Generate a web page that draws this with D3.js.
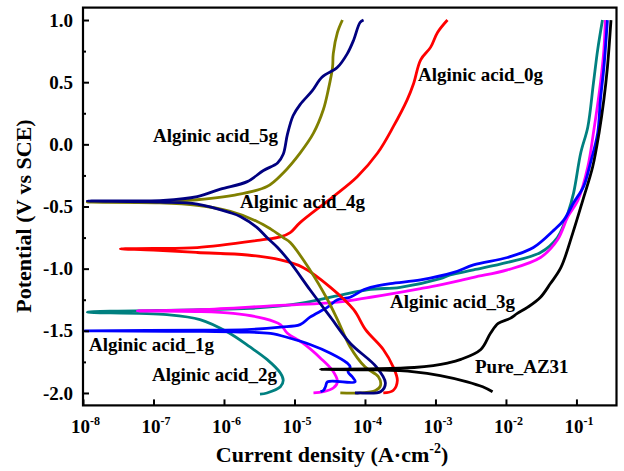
<!DOCTYPE html>
<html>
<head>
<meta charset="utf-8">
<script src="https://cdn.jsdelivr.net/npm/d3@7"></script>
<style>
  body { margin: 0; background: #fff; }
  svg text { font-family: "Liberation Serif", "Times New Roman", serif; font-weight: bold; fill: #000; }
  .tick-label { font-size: 19px; }
  .axis-title { font-size: 22px; }
  .curve-label { font-size: 19px; }
</style>
</head>
<body>
<svg id="chart" width="624" height="471"></svg>
<script>
// ── data: [current density (A/cm2), potential (V vs SCE)] ─────────
const pureAZ31 = [
  [6.46e-3,-1.99],[4.68e-3,-1.95],[2.82e-3,-1.91],[1.17e-3,-1.86],[5.0e-4,-1.83],[1.58e-4,-1.815],
  [2.34e-5,-1.81],[1.58e-4,-1.805],[5.0e-4,-1.795],[9.3e-4,-1.78],[1.48e-3,-1.76],[2.29e-3,-1.73],
  [4.4e-3,-1.65],[6.03e-3,-1.52],[7.76e-3,-1.44],[1.15e-2,-1.40],[1.45e-2,-1.36],[2.04e-2,-1.31],
  [3.09e-2,-1.23],[4.27e-2,-1.12],[6.03e-2,-0.99],[8.91e-2,-0.71],[0.123,-0.45],[0.170,-0.18],
  [0.209,0.09],[0.245,0.36],[0.275,0.62],[0.309,1.0]
];
const acid0g = [
  [1.82e-4,-2.0],[2.51e-4,-1.98],[2.88e-4,-1.90],[2.51e-4,-1.79],[1.82e-4,-1.65],[1.02e-4,-1.49],
  [6.92e-5,-1.33],[3.24e-5,-1.15],[1.32e-5,-0.99],[6.31e-6,-0.93],[2.14e-6,-0.89],[4.17e-7,-0.87],
  [1e-7,-0.85],[3.39e-8,-0.84],[1e-7,-0.837],[4.17e-7,-0.83],[3.24e-6,-0.77],[6.31e-6,-0.745],
  [8.7e-6,-0.71],[1.2e-5,-0.63],[3.55e-5,-0.42],[7.76e-5,-0.26],[1.51e-4,-0.07],[2.51e-4,0.14],
  [3.98e-4,0.36],[4.9e-4,0.49],[6.17e-4,0.68],[8.51e-4,0.78],[1.07e-3,0.90],[1.48e-3,1.0]
];
const acid1g = [
  [2.34e-5,-1.99],[2.57e-5,-1.98],[2.75e-5,-1.95],[2.95e-5,-1.91],[7.24e-5,-1.91],[6.6e-5,-1.87],
  [5.75e-5,-1.83],[6.17e-5,-1.79],[5.62e-5,-1.76],[3.24e-5,-1.68],[1.66e-5,-1.61],[8.71e-6,-1.56],
  [4.57e-6,-1.52],[1.7e-6,-1.51],[4.57e-7,-1.505],[1.07e-8,-1.50],[4.57e-7,-1.495],[2.14e-6,-1.49],
  [6.31e-6,-1.47],[1.2e-5,-1.45],[1.66e-5,-1.39],[2.95e-5,-1.31],[4.07e-5,-1.25],[6.17e-5,-1.23],
  [9.55e-5,-1.17],[1.2e-4,-1.15],[2.29e-4,-1.12],[6.17e-4,-1.09],[1.82e-3,-1.03],[3.47e-3,-0.97],
  [1.05e-2,-0.91],[2.45e-2,-0.83],[4.79e-2,-0.69],[6.61e-2,-0.61],[9.12e-2,-0.47],[0.126,-0.34],
  [0.158,-0.15],[0.2,0.09],[0.219,0.36],[0.245,0.62],[0.275,1.0]
];
const acid2g = [
  [3.24e-6,-2.01],[4.07e-6,-2.0],[6.31e-6,-1.95],[6.92e-6,-1.90],[6.31e-6,-1.84],[4.07e-6,-1.73],
  [2.34e-6,-1.63],[1.12e-6,-1.51],[4.57e-7,-1.41],[1.55e-7,-1.37],[1.15e-8,-1.35],[4.57e-7,-1.33],
  [2.34e-6,-1.32],[1.2e-5,-1.28],[1.07e-4,-1.17],[3.16e-4,-1.15],[1.17e-3,-1.08],[1.62e-3,-1.05],
  [3.47e-3,-1.01],[1.05e-2,-0.95],[3.09e-2,-0.87],[5.37e-2,-0.75],[7.59e-2,-0.55],[9.12e-2,-0.39],
  [0.115,-0.07],[0.145,0.14],[0.174,0.49],[0.2,0.76],[0.234,1.0]
];
const acid3g = [
  [1.86e-5,-2.0],[2.57e-5,-1.99],[3.55e-5,-1.96],[4.07e-5,-1.91],[3.47e-5,-1.82],[2.34e-5,-1.72],
  [1.32e-5,-1.60],[7.94e-6,-1.52],[6.31e-6,-1.45],[3.63e-6,-1.40],[1.35e-6,-1.36],[4.0e-7,-1.345],
  [5.89e-8,-1.34],[4.57e-7,-1.33],[4.57e-6,-1.30],[4.07e-5,-1.27],[1.2e-4,-1.23],[6.17e-4,-1.16],
  [1.17e-3,-1.13],[3.47e-3,-1.07],[1.05e-2,-1.01],[3.09e-2,-0.91],[5.37e-2,-0.77],[7.59e-2,-0.58],
  [0.105,-0.45],[0.145,-0.18],[0.174,0.09],[0.219,0.49],[0.245,0.76],[0.257,1.0]
];
const acid4g = [
  [4.47e-5,-2.0],[8.5e-5,-2.0],[1.41e-4,-1.98],[1.66e-4,-1.94],[1.55e-4,-1.87],[1.0e-4,-1.79],
  [6.17e-5,-1.63],[4.07e-5,-1.41],[2.95e-5,-1.25],[1.66e-5,-1.01],[8.71e-6,-0.79],[6.92e-6,-0.75],
  [4.57e-6,-0.68],[2.95e-6,-0.62],[1.23e-6,-0.54],[4.17e-7,-0.49],[1.2e-7,-0.47],[1.15e-8,-0.465],
  [1.2e-7,-0.46],[2.4e-7,-0.455],[1.35e-6,-0.41],[4.07e-6,-0.34],[6.92e-6,-0.23],[1.2e-5,-0.07],
  [1.86e-5,0.09],[2.57e-5,0.28],[3.02e-5,0.44],[3.47e-5,0.62],[3.55e-5,0.73],[4.07e-5,0.90],[4.79e-5,1.0]
];
const acid5g = [
  [7.2e-5,-2.0],[8.5e-5,-2.0],[1.66e-4,-1.99],[1.95e-4,-1.92],[1.45e-4,-1.79],[6.17e-5,-1.60],
  [3.24e-5,-1.39],[1.66e-5,-1.17],[8.71e-6,-0.95],[5.75e-6,-0.83],[4.07e-6,-0.75],[2.95e-6,-0.67],
  [1.7e-6,-0.58],[1.23e-6,-0.55],[4.17e-7,-0.48],[1.26e-7,-0.465],[1.15e-8,-0.456],[1.38e-7,-0.45],
  [4.17e-7,-0.42],[8.91e-7,-0.36],[2.14e-6,-0.30],[3.63e-6,-0.21],[5.75e-6,-0.15],[6.92e-6,-0.08],
  [7.94e-6,0.08],[9.55e-6,0.23],[1.2e-5,0.32],[1.78e-5,0.43],[2.45e-5,0.54],[4.07e-5,0.62],
  [5.62e-5,0.73],[6.92e-5,0.84],[8.51e-5,0.98],[9.55e-5,1.0]
];

const seriesNames  = ['Alginic acid_2g', 'Alginic acid_3g', 'Alginic acid_1g', 'Alginic acid_0g', 'Alginic acid_4g', 'Alginic acid_5g', 'Pure_AZ31'];
const seriesData   = [acid2g, acid3g, acid1g, acid0g, acid4g, acid5g, pureAZ31];
const seriesColors = ['#008080', '#ff00ff', '#0000ff', '#ff0000', '#808000', '#000080', '#000000'];

const xTicks = [1e-8, 1e-7, 1e-6, 1e-5, 1e-4, 1e-3, 1e-2, 1e-1];
const yTicks = [-2.0, -1.5, -1.0, -0.5, 0.0, 0.5, 1.0];
const yMinor = [-1.75, -1.25, -0.75, -0.25, 0.25, 0.75];

// label anchors (left, baseline) in px
const curveLabels = [
  { text: 'Alginic acid_0g', x: 418, y: 81 },
  { text: 'Alginic acid_5g', x: 153, y: 142 },
  { text: 'Alginic acid_4g', x: 240, y: 208 },
  { text: 'Alginic acid_3g', x: 390, y: 308 },
  { text: 'Alginic acid_1g', x: 89,  y: 351 },
  { text: 'Alginic acid_2g', x: 152, y: 381 },
  { text: 'Pure_AZ31',       x: 475, y: 373 }
];

// ── chart ─────────────────────────────────────────────
const svg = d3.select('#chart');
const plotL = 83, plotR = 616.5, plotT = 7.6, plotB = 405.4;

const x = d3.scaleLog().domain([1e-8, 0.37]).range([plotL, plotR]);
const y = d3.scaleLinear().domain([-2.1, 1.1]).range([plotB, plotT]);

const line = d3.line()
  .x(d => x(d[0])).y(d => y(d[1]))
  .curve(d3.curveCatmullRom.alpha(0.5));

svg.append('g').selectAll('path')
  .data(seriesData)
  .join('path')
  .attr('fill', 'none')
  .attr('stroke', (d, i) => seriesColors[i])
  .attr('stroke-width', 2.8)
  .attr('stroke-linejoin', 'round')
  .attr('d', line);

// axes
const xAxis = svg.append('g').attr('transform', `translate(0,${plotB})`)
  .call(d3.axisBottom(x).tickValues(xTicks).tickSize(-6).tickFormat(''));
const yAxis = svg.append('g').attr('transform', `translate(${plotL},0)`)
  .call(d3.axisLeft(y).tickValues(yTicks).tickSize(-6).tickPadding(10).tickFormat(d => d.toFixed(1)));
const yAxisMinor = svg.append('g').attr('transform', `translate(${plotL},0)`)
  .call(d3.axisLeft(y).tickValues(yMinor).tickSize(-3).tickFormat(''));

[xAxis, yAxis, yAxisMinor].forEach(a => {
  a.select('.domain').remove();
  a.selectAll('.tick line').attr('stroke', '#000').attr('stroke-width', 2);
});
yAxis.selectAll('.tick text').attr('class', 'tick-label');

xAxis.selectAll('.tick').each(function(d) {
  const t = d3.select(this).append('text')
    .attr('class', 'tick-label')
    .attr('text-anchor', 'middle')
    .attr('x', 2).attr('y', 28);
  t.append('tspan').text('10');
  t.append('tspan').attr('dy', -8).style('font-size', '12px').text(Math.round(Math.log10(d)));
});

svg.append('rect')
  .attr('x', plotL).attr('y', plotT)
  .attr('width', plotR - plotL).attr('height', plotB - plotT)
  .attr('fill', 'none').attr('stroke', '#000').attr('stroke-width', 2.2);

// axis titles
const xt = svg.append('text').attr('class', 'axis-title')
  .attr('x', 332).attr('y', 462).attr('text-anchor', 'middle');
xt.append('tspan').text('Current density (A·cm');
xt.append('tspan').attr('dy', -9).style('font-size', '14px').text('-2');
xt.append('tspan').attr('dy', 9).text(')');

svg.append('text').attr('class', 'axis-title')
  .attr('transform', 'translate(31,216) rotate(-90)')
  .attr('text-anchor', 'middle')
  .text('Potential (V vs SCE)');

// curve labels
svg.append('g').selectAll('text')
  .data(curveLabels)
  .join('text')
  .attr('class', 'curve-label')
  .attr('x', d => d.x).attr('y', d => d.y)
  .text(d => d.text);
</script>
</body>
</html>
